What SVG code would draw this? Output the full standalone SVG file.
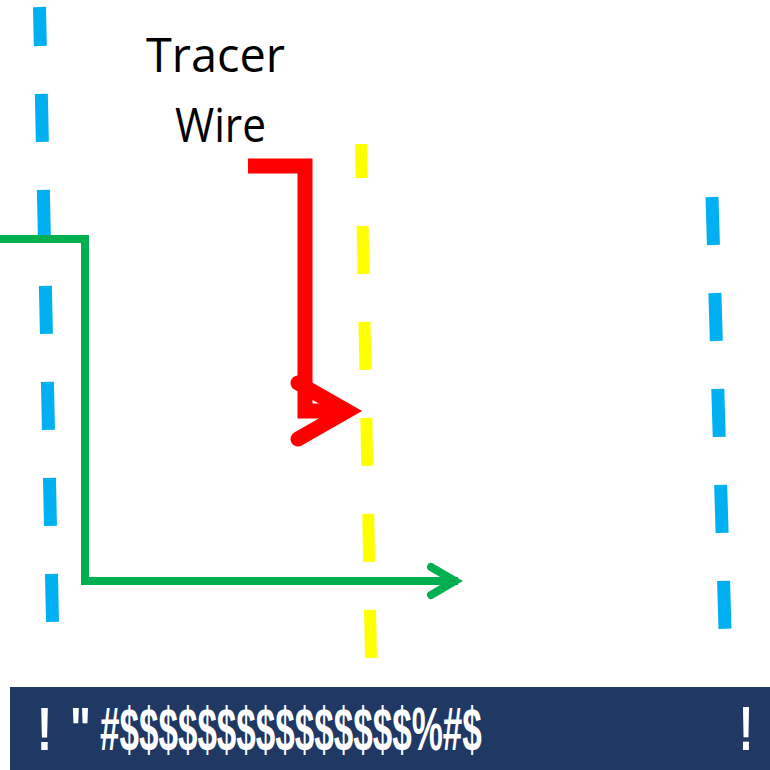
<svg xmlns="http://www.w3.org/2000/svg" width="770" height="770" viewBox="0 0 770 770">
  <style>
    .blue { stroke: #00B0F0; stroke-width: 13; fill: none; stroke-dasharray: 48 48; }
    .yellow { stroke: #FFFF00; stroke-width: 12; fill: none; stroke-dasharray: 48 48; }
    .green { stroke: #00B050; stroke-width: 8; fill: none; stroke-linejoin: miter; }
    .red { stroke: #FF0000; stroke-width: 15; fill: none; stroke-linejoin: miter; }
    .head { stroke-linecap: round; stroke-linejoin: miter; }
    .label { font-family: "Open Sans", "DejaVu Sans", sans-serif; font-size: 47px; fill: #000000; text-anchor: middle; }
    .bartext { font-family: "Liberation Sans", Arial, sans-serif; font-weight: bold; font-size: 62px; fill: #FFFFFF; }
  </style>
  <rect x="0" y="0" width="770" height="770" fill="#FFFFFF"/>

  <g id="blue-line-left">
    <path class="blue" d="M39.5,7 L52.5,622" stroke-dashoffset="9"/>
  </g>
  <g id="blue-line-right">
    <path class="blue" d="M712,197 L725,629"/>
  </g>
  <g id="yellow-line">
    <path class="yellow" d="M361,144 L371,658" stroke-dashoffset="14"/>
  </g>

  <g id="tracer-wire-label">
    <text class="label" x="215.5" y="72" textLength="139" lengthAdjust="spacingAndGlyphs">Tracer</text>
    <text class="label" x="220.5" y="142" textLength="91" lengthAdjust="spacingAndGlyphs">Wire</text>
  </g>

  <g id="connectors">
    <g id="green-arrow">
      <path class="green" d="M0,239 H85 V581 H458"/>
      <path class="green head" d="M431,567 L455,581 L431,595"/>
    </g>
    <g id="red-arrow">
      <path class="red" d="M248,166 H305 V411 H345"/>
      <path class="red head" d="M298,383 L347,411 L298,439"/>
    </g>
  </g>

  <g id="footer-bar">
    <rect x="10" y="687" width="760" height="83" fill="#203864"/>
    <text class="bartext" transform="translate(37,750) scale(0.73,1)" x="0" y="0">!</text>
    <text class="bartext" transform="translate(70,750) scale(0.71,1)" x="0" y="0">"</text>
    <text class="bartext" transform="translate(100,750) scale(0.565,1)" x="0" y="0">#$$$$$$$$$$$$$$$%#$</text>
    <text class="bartext" transform="translate(739,750) scale(0.68,1)" x="0" y="0">!</text>
  </g>
</svg>
